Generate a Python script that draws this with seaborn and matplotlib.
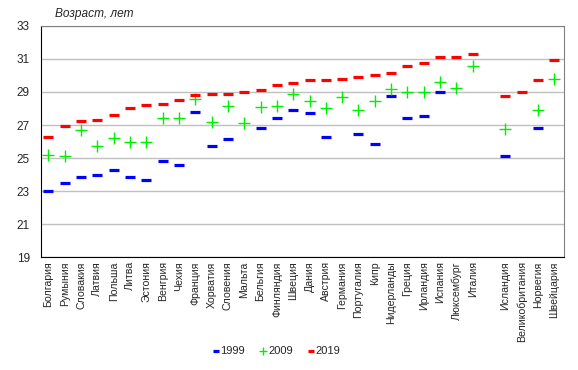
import matplotlib
matplotlib.use("Agg")
import matplotlib.pyplot as plt
import numpy as np
import pandas as pd
import seaborn as sns

countries = ["Болгария", "Румыния", "Словакия", "Латвия", "Польша", "Литва", "Эстония",
             "Венгрия", "Чехия", "Франция", "Хорватия", "Словения", "Мальта", "Бельгия",
             "Финляндия", "Швеция", "Дания", "Австрия", "Германия", "Португалия", "Кипр",
             "Нидерланды", "Греция", "Ирландия", "Испания", "Люксембург", "Италия",
             "Исландия", "Великобритания", "Норвегия", "Швейцария"]
n_eu = 27  # первые 27 — страны ЕС, дальше разрыв

nan = np.nan
age_1999 = [23.0, 23.5, 23.85, 24.0, 24.3, 23.85, 23.7, 24.8, 24.6, 27.8, 25.7, 26.15, nan, 26.8,
            27.4, 27.9, 27.7, 26.3, nan, 26.45, 25.85, 28.75, 27.4, 27.55, 29.0, nan, nan,
            25.1, nan, 26.8, nan]
age_2009 = [25.2, 25.1, 26.7, 25.7, 26.2, 26.0, 26.0, 27.4, 27.4, 28.6, 27.2, 28.15, 27.1, 28.1,
            28.15, 28.9, 28.45, 28.0, 28.7, 27.9, 28.45, 29.2, 29.0, 29.0, 29.6, 29.25, 30.55,
            26.75, nan, 27.9, 29.8]
age_2019 = [26.3, 26.95, 27.25, 27.3, 27.6, 28.0, 28.2, 28.3, 28.5, 28.8, 28.9, 28.9, 29.0, 29.1,
            29.4, 29.55, 29.7, 29.7, 29.8, 29.9, 30.0, 30.15, 30.6, 30.75, 31.1, 31.1, 31.3,
            28.75, 29.0, 29.7, 30.95]

pos = [i if i < n_eu else i + 1 for i in range(len(countries))]

df = pd.DataFrame({"x": pos, "country": countries,
                   "1999": age_1999, "2009": age_2009, "2019": age_2019})
long = df.melt(id_vars=["x", "country"], var_name="year", value_name="age").dropna()

sns.set_style("white")
plt.rcParams["font.family"] = ["Liberation Sans", "DejaVu Sans"]

fig = plt.figure(figsize=(5.78, 3.70), dpi=100)
ax = fig.add_axes([0.071, 0.305, 0.905, 0.625])

styles = {
    "1999": dict(color="#0000ff", marker="_", s=48, linewidth=2.3),
    "2009": dict(color="#00ee00", marker="+", s=80, linewidth=1.0),
    "2019": dict(color="#ff0000", marker="_", s=48, linewidth=2.3),
}
for year, st in styles.items():
    sub = long[long["year"] == year]
    sns.scatterplot(data=sub, x="x", y="age", ax=ax, marker=st["marker"], s=st["s"],
                    color=st["color"], linewidth=st["linewidth"], label=year, zorder=3)

ax.set_ylim(19, 33)
ax.set_yticks(range(19, 34, 2))
ax.set_xlim(-0.45, len(countries) + 0.6)
ax.set_xticks(pos)
ax.set_xticklabels(countries, rotation=90, fontsize=7.6)
ax.tick_params(axis="y", labelsize=8.5, length=0, pad=8)
ax.tick_params(axis="x", length=0, pad=3)
ax.set_xlabel("")
ax.set_ylabel("")
ax.yaxis.grid(True, color="#c0c0c0", linewidth=1.0)
ax.set_axisbelow(True)
for side in ["left", "bottom"]:
    ax.spines[side].set_color("black")
for side in ["top", "right"]:
    ax.spines[side].set_color("#808080")

fig.text(0.095, 0.962, "Возраст, лет", fontsize=8.6, style="italic", va="center")

ax.legend(loc="center", bbox_to_anchor=(0.45, -0.405), ncol=3, frameon=False,
          fontsize=8, markerscale=0.6, handletextpad=0.1, columnspacing=1.4,
          handlelength=0.6)

fig.savefig("out.png", dpi=100, facecolor="white")
